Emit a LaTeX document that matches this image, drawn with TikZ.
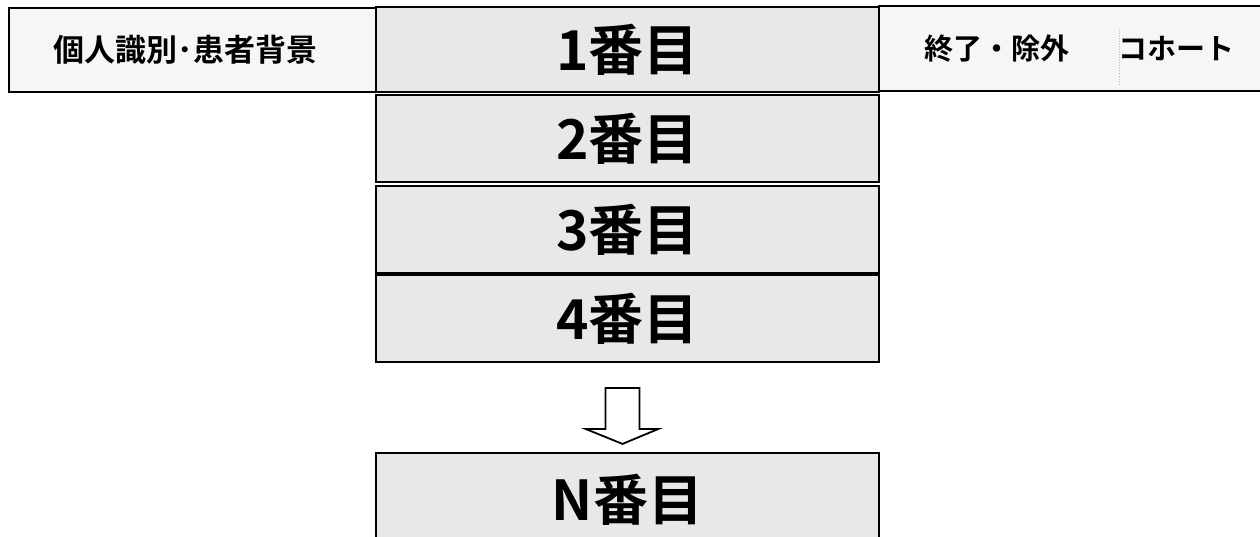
\documentclass[tikz,border=0pt]{standalone}
\usepackage{fontspec}
\newfontfamily\jpfont{Noto Sans CJK JP}[BoldFont={Noto Sans CJK JP Bold}]
\usetikzlibrary{calc}
\tikzset{sidebox/.style = {draw, line width=1.8pt, fill=gray!7, inner sep=0pt,
                           font=\jpfont\bfseries\fontsize{29}{34}\selectfont},
         rowbox/.style = {draw, line width=1.8pt, fill=gray!18, inner sep=0pt,
                          minimum width=503pt,
                          font=\jpfont\bfseries\fontsize{55}{60}\selectfont}}

\begin{document}
\begin{tikzpicture}[x=1pt, y=-1pt]
      \useasboundingbox (0, 0) rectangle (1260, 537);
      \fill [white] (0, 0) rectangle (1260, 537);

      \node [sidebox, minimum width=367pt, minimum height=84pt] (info) at (192.5, 50) {\fontsize{31}{36}\selectfont 個人識別･患者背景\kern14pt};
      \node [sidebox, minimum width=391pt, minimum height=85pt] (done) at (1074.5, 48.5) {\kern10pt 終了・除外\kern49pt コホート};
      \draw [gray!60, dotted, line width=0.7pt] (1119, 30) -- (1119, 85);

      \node [rowbox, minimum height=85pt] (b1) at (627.5, 49.5) {1番目};
      \node [rowbox, minimum height=87pt] (b2) at (627.5, 138.5) {2番目};
      \node [rowbox, minimum height=87pt] (b3) at (627.5, 229.5) {3番目};
      \node [rowbox, minimum height=87pt] (b4) at (627.5, 318.5) {4番目};
      \node [rowbox, minimum height=94pt] (bN) at (627.5, 500) {N番目};

      \coordinate (top) at ($(b4.south) + (-5, 25)$);
      \draw [line width=1.8pt, fill=white, line join=miter]
            ($(top) + (-17, 0)$) -- ($(top) + (-17, 41)$) -- ($(top) + (-37, 41)$)
            -- ($(top) + (0, 56)$) -- ($(top) + (36, 41)$) -- ($(top) + (17, 41)$)
            -- ($(top) + (17, 0)$) -- cycle;
    \end{tikzpicture}
\end{document}
